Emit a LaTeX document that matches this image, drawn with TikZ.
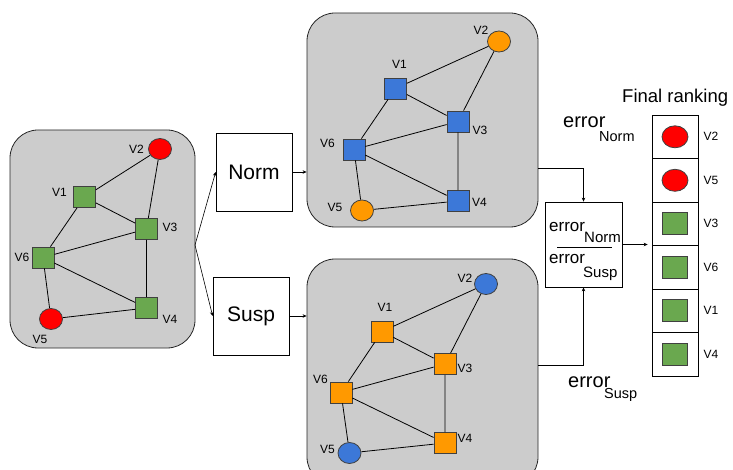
\documentclass[tikz,border=0pt]{standalone}
\usepackage{fontspec}
\setmainfont{Liberation Sans}
\usetikzlibrary{shapes.geometric,arrows.meta}
\definecolor{panelgray}{HTML}{CCCCCC}
\definecolor{vgreen}{HTML}{6AA84F}
\definecolor{vred}{HTML}{FF0000}
\definecolor{vorange}{HTML}{FF9900}
\definecolor{vblue}{HTML}{3C78D8}
\begin{document}
\begin{tikzpicture}[x=1pt,y=-1pt,
 panel/.style={draw=black!85, fill=panelgray, rounded corners=28pt, line width=0.8pt, inner sep=0},
 sq/.style={draw=black!75, minimum width=22pt, minimum height=21pt, inner sep=0, line width=0.8pt},
 circ/.style={ellipse, draw=black!75, minimum width=23pt, minimum height=21pt, inner sep=0, line width=0.8pt},
 lbl/.style={font=\fontsize{12}{12}\selectfont, inner sep=0},
 edge/.style={line width=0.8pt},
 box/.style={draw, fill=white, line width=0.7pt, inner sep=0},
 arr/.style={line width=0.6pt, -{Stealth[length=4pt,width=3.5pt]}},
 big/.style={font=\fontsize{20}{20}\selectfont, inner sep=0},
 sub/.style={font=\fontsize{14.5}{14.5}\selectfont, inner sep=0},
]
\useasboundingbox (0,0) rectangle (733,470);
\clip (0,0) rectangle (733,470);

% panels
\node[panel, minimum width=185pt, minimum height=218pt] (lp) at (102.5,239) {};
\node[panel, minimum width=231pt, minimum height=214pt] (tp) at (422.5,120) {};
\node[panel, minimum width=231pt, minimum height=226pt] (bp) at (422.5,372) {};

% left graph
\node[circ,fill=vred] (a2) at (160,149) {};
\node[sq,fill=vgreen] (a1) at (84.5,197) {};
\node[sq,fill=vgreen] (a3) at (146.5,229) {};
\node[sq,fill=vgreen] (a6) at (43,257.5) {};
\node[sq,fill=vgreen] (a4) at (146.5,308) {};
\node[circ,fill=vred] (a5) at (51,319) {};
\draw[edge] (a2)--(a1) (a2)--(a3) (a1)--(a3) (a1)--(a6) (a6)--(a3) (a6)--(a4) (a3)--(a4) (a6)--(a5) (a5)--(a4);
\node[lbl] (la2) at (136.5,149) {V2};
\node[lbl] (la1) at (59.5,192.5) {V1};
\node[lbl] (la3) at (170,227.5) {V3};
\node[lbl] (la6) at (22,257.5) {V6};
\node[lbl] (la4) at (170,319.5) {V4};
\node[lbl] (la5) at (40,339) {V5};

% top graph
\node[circ,fill=vorange] (b2) at (499,41.5) {};
\node[sq,fill=vblue] (b1) at (395.5,88.5) {};
\node[sq,fill=vblue] (b3) at (458,121.5) {};
\node[sq,fill=vblue] (b6) at (354,149.5) {};
\node[sq,fill=vblue] (b4) at (458,201) {};
\node[circ,fill=vorange] (b5) at (362,210.5) {};
\draw[edge] (b2)--(b1) (b2)--(b3) (b1)--(b3) (b1)--(b6) (b6)--(b3) (b6)--(b4) (b3)--(b4) (b6)--(b5) (b5)--(b4);
\node[lbl] (lb2) at (481,30.5) {V2};
\node[lbl] (lb1) at (399.5,64.5) {V1};
\node[lbl] (lb3) at (480,130) {V3};
\node[lbl] (lb6) at (327.5,143.5) {V6};
\node[lbl] (lb4) at (479.5,202) {V4};
\node[lbl] (lb5) at (335,207.5) {V5};

% bottom graph
\node[circ,fill=vblue] (c2) at (486,284) {};
\node[sq,fill=vorange] (c1) at (382,331.5) {};
\node[sq,fill=vorange] (c3) at (445,364) {};
\node[sq,fill=vorange] (c6) at (341,392.5) {};
\node[sq,fill=vorange] (c4) at (445,443) {};
\node[circ,fill=vblue] (c5) at (349.5,453) {};
\draw[edge] (c2)--(c1) (c2)--(c3) (c1)--(c3) (c1)--(c6) (c6)--(c3) (c6)--(c4) (c3)--(c4) (c6)--(c5) (c5)--(c4);
\node[lbl] (lc2) at (465,278.5) {V2};
\node[lbl] (lc1) at (385,307.5) {V1};
\node[lbl] (lc3) at (465,368) {V3};
\node[lbl] (lc6) at (320.5,379.5) {V6};
\node[lbl] (lc4) at (465,438.5) {V4};
\node[lbl] (lc5) at (327.5,449.5) {V5};

% Norm / Susp boxes
\node[box, minimum width=76pt, minimum height=78pt, font=\fontsize{21}{21}\selectfont] (norm) at (254,172) {Norm};
\node[box, minimum width=76pt, minimum height=78pt, font=\fontsize{21}{21}\selectfont] (susp) at (251,316) {Susp};
\coordinate (fork) at (195,245);
\draw[arr] (fork) -- (norm.west);
\draw[arr] (fork) -- (susp.west);
\draw[arr] (norm.east) -- (norm.east -| tp.west);
\draw[arr] (susp.east) -- (susp.east -| bp.west);

% ratio box
\node[box, minimum width=77pt, minimum height=85pt] (ratio) at (583.5,244.5) {};
\coordinate (tpo) at (538,168);
\coordinate (bpo) at (538,365);
\draw[arr] (tpo) -| (ratio.north);
\draw[arr] (bpo) -| (ratio.south);
\node[big, anchor=base west, font=\fontsize{17}{17}\selectfont] (re1) at (549,232) {error};
\node[sub, anchor=base west, font=\fontsize{15}{15}\selectfont] (rn) at (584,243) {Norm};
\coordinate (fl) at (557,247);
\coordinate (fr) at (612,247);
\draw[line width=0.7pt] (fl) -- (fr);
\node[big, anchor=base west, font=\fontsize{17}{17}\selectfont] (re2) at (549,263) {error};
\node[sub, anchor=base west, font=\fontsize{15}{15}\selectfont] (rs) at (583,277) {Susp};

% error labels
\node[big, anchor=base west] (en) at (563,128) {error};
\node[sub, anchor=base west] (enn) at (599,142) {Norm};
\node[big, anchor=base west] (es) at (568,387) {error};
\node[sub, anchor=base west] (ess) at (604,398) {Susp};

% ranking
\node[anchor=base west, inner sep=0, font=\fontsize{18.5}{18.5}\selectfont] (fin) at (622,103) {Final ranking};
\foreach \i/\y in {1/136.8,2/180.3,3/223.7,4/267.2,5/310.8,6/354.3}{
  \node[box, minimum width=46pt, minimum height=43.5pt] (r\i) at (675,\y) {};
}
\node[circ, fill=vred, minimum width=26pt, minimum height=22pt] (k1) at (r1) {};
\node[circ, fill=vred, minimum width=26pt, minimum height=22pt] (k2) at (r2) {};
\node[sq, fill=vgreen, minimum width=25pt, minimum height=22pt] (k3) at (r3) {};
\node[sq, fill=vgreen, minimum width=25pt, minimum height=22pt] (k4) at (r4) {};
\node[sq, fill=vgreen, minimum width=25pt, minimum height=22pt] (k5) at (r5) {};
\node[sq, fill=vgreen, minimum width=25pt, minimum height=22pt] (k6) at (r6) {};
\node[lbl] (t1) at (711,136.8) {V2};
\node[lbl] (t2) at (711,180.3) {V5};
\node[lbl] (t3) at (711,223.7) {V3};
\node[lbl] (t4) at (711,267.2) {V6};
\node[lbl] (t5) at (711,310.8) {V1};
\node[lbl] (t6) at (711,354.3) {V4};
\draw[arr, shorten >=4pt] (ratio.east) -- (ratio.east -| r3.west);
\end{tikzpicture}
\end{document}
